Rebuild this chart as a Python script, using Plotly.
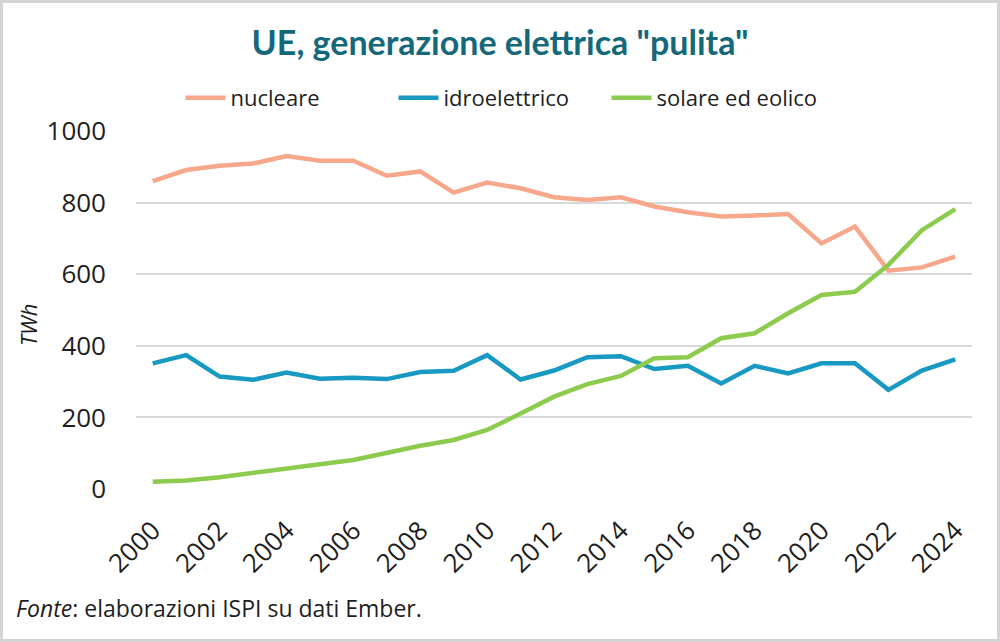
import plotly.graph_objects as go

years = list(range(2000, 2025))
nucleare = [860, 891, 903, 909, 930, 917, 917, 875, 887, 828, 856, 840, 815,
            807, 815, 789, 773, 761, 764, 768, 686, 733, 610, 619, 649]
idroelettrico = [351, 374, 314, 305, 325, 308, 311, 307, 327, 330, 374, 306, 331,
                 368, 371, 335, 344, 295, 344, 323, 351, 351, 277, 331, 362]
solare_eolico = [20, 24, 33, 44, 58, 69, 81, 102, 121, 137, 165, 211, 258,
                 293, 316, 365, 368, 421, 435, 491, 542, 551, 626, 723, 782]

series_names = ["nucleare", "idroelettrico", "solare ed eolico"]
series_values = [nucleare, idroelettrico, solare_eolico]
colors = ["#F7A78A", "#1799C2", "#8CCB4E"]

title_text = 'UE, generazione elettrica "pulita"'
y_title = "TWh"
footer = "<i>Fonte</i>: elaborazioni ISPI su dati Ember."

FONT = "Open Sans"
TXT = "#1E1E1E"
W, H = 1000, 642
L, R, T, B = 136, 28, 131, 153
pw, ph = W - L - R, H - T - B

fig = go.Figure()
for name, vals, c in zip(series_names, series_values, colors):
    fig.add_trace(go.Scatter(x=years, y=vals, name=name, mode="lines",
                             line=dict(color=c, width=4.5)))

fig.update_layout(
    template="none",
    width=W, height=H,
    margin=dict(l=L, r=R, t=T, b=B, autoexpand=False),
    paper_bgcolor="white", plot_bgcolor="white",
    font=dict(family=FONT, color=TXT),
    title=dict(text=title_text, x=0.5, xref="container", xanchor="center",
               y=1 - 43 / H, yref="container", yanchor="middle",
               font=dict(family="Lato", size=34, color="#14687A", weight=700)),
    legend=dict(orientation="h", x=0.5, xref="container", xanchor="center",
                y=1 - 98 / H, yref="container", yanchor="middle",
                font=dict(size=22, color=TXT), itemwidth=40,
                entrywidth=158, entrywidthmode="pixels",
                bgcolor="rgba(0,0,0,0)"),
    xaxis=dict(range=[1999.5, 2024.5], tickmode="array",
               tickvals=years[::2], ticktext=[str(y) for y in years[::2]],
               tickangle=-45, showgrid=False, showline=False, zeroline=False,
               automargin=False, ticklabelstandoff=20,
               tickfont=dict(size=26, color=TXT), ticks=""),
    yaxis=dict(range=[0, 1000], tickvals=[0, 200, 400, 600, 800, 1000],
               showgrid=True, gridcolor="#D9D9D9", gridwidth=1.5,
               zeroline=False, showline=False, ticks="", automargin=False,
               ticklabelstandoff=29,
               tickfont=dict(size=26, color=TXT)),
    showlegend=True,
)

fig.add_annotation(text="<i>" + y_title + "</i>", xref="paper", yref="paper",
                   x=(28 - L) / pw, y=(H - B - 325) / ph, textangle=-90,
                   showarrow=False, xanchor="center", yanchor="middle",
                   font=dict(size=22, color=TXT))
fig.add_annotation(text=footer, xref="paper", yref="paper",
                   x=(14 - L) / pw, y=(H - B - 608) / ph,
                   showarrow=False, xanchor="left", yanchor="middle",
                   font=dict(size=23, color=TXT))
# outer frame
fig.add_shape(type="rect", xref="paper", yref="paper",
              x0=(0 - L) / pw, x1=(W - L) / pw,
              y0=(H - B - H) / ph, y1=(H - B) / ph,
              line=dict(color="#D4D4D4", width=6), layer="above")

fig.write_html("out.html", config={"displayModeBar": False},
               post_script="document.body.style.margin='0';")
